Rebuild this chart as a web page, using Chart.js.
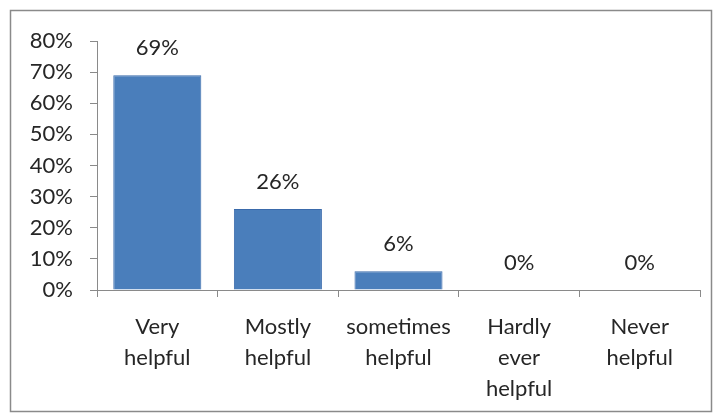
<!DOCTYPE html>
<html><head><meta charset="utf-8">
<script src="https://cdn.jsdelivr.net/npm/chart.js@4"></script>
<style>html,body{margin:0;padding:0;background:#fff}#wrap{width:718px;height:417px;position:relative}</style>
</head><body><div id="wrap"><canvas id="c" width="718" height="417"></canvas></div>
<script>
const categories = [["Very","helpful"],["Mostly","helpful"],["sometimes","helpful"],["Hardly","ever","helpful"],["Never","helpful"]];
const values = [69, 26, 6, 0, 0];
const valueLabels = ["69%","26%","6%","0%","0%"];
const yTicks = [0,10,20,30,40,50,60,70,80];

const FONT = "Lato, 'Open Sans', sans-serif";
const FSIZE = 22;
const frame = {
  id:'frame',
  beforeDraw(chart){
    const ctx = chart.ctx;
    ctx.save();
    ctx.strokeStyle = '#8a8a8a';
    ctx.lineWidth = 1.5;
    ctx.strokeRect(10.5, 10.5, 701, 401);
    ctx.restore();
  }
};
const dataLabels = {
  id:'dataLabels',
  afterDatasetsDraw(chart){
    const ctx = chart.ctx;
    const meta = chart.getDatasetMeta(0);
    ctx.save();
    ctx.font = FSIZE + 'px ' + FONT;
    ctx.fillStyle = '#262626';
    ctx.textAlign = 'center';
    ctx.textBaseline = 'middle';
    meta.data.forEach((el,i)=>{
      ctx.fillText(valueLabels[i], el.x, el.y - 27);
    });
    ctx.restore();
  }
};
new Chart(document.getElementById('c'), {
  type:'bar',
  data:{labels:categories, datasets:[{data:values, backgroundColor:'#4a7ebb', borderColor:'#3a6aab', borderWidth:1, barPercentage:0.73, categoryPercentage:1}]},
  options:{
    responsive:false, animation:false,
    layout:{padding:{left:0, top:41, right:18, bottom:0}},
    plugins:{legend:{display:false}, tooltip:{enabled:false}},
    scales:{
      x:{
        offset:true,
        grid:{offset:true, drawOnChartArea:false, drawTicks:true, tickLength:7, color:'#8a8a8a'},
        border:{color:'#8a8a8a'},
        ticks:{color:'#262626', font:{family:FONT, size:FSIZE, lineHeight:1.42}, padding:14, maxRotation:0, autoSkip:false},
        afterFit(s){ s.height = 127; }
      },
      y:{
        min:0, max:80,
        afterBuildTicks(s){ s.ticks = yTicks.map(v=>({value:v})); },
        grid:{drawOnChartArea:false, drawTicks:true, tickLength:7, color:'#8a8a8a'},
        border:{color:'#8a8a8a'},
        ticks:{color:'#262626', font:{family:FONT, size:FSIZE}, padding:17, callback:v=>v+'%'},
        afterFit(s){ s.width = 97; }
      }
    }
  },
  plugins:[frame, dataLabels]
});
</script></body></html>
